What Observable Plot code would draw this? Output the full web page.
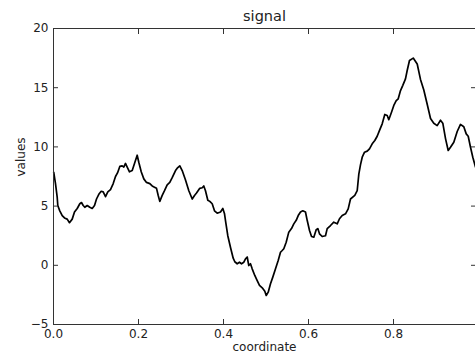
<!DOCTYPE html>
<html><head><meta charset="utf-8">
<script src="https://cdn.jsdelivr.net/npm/d3@7"></script>
<script src="https://cdn.jsdelivr.net/npm/@observablehq/plot@0.6"></script>
<style>body{margin:0;background:#fff;}</style>
</head><body><div id="chart"></div>
<script>
const title = "signal";
const xLabel = "coordinate";
const yLabel = "values";
const xTicks = [0, 0.2, 0.4, 0.6, 0.8];
const yTicks = [-5, 0, 5, 10, 15, 20];
const coordinate = [
  0.0005, 0.0047, 0.0087, 0.0101, 0.0148, 0.0205, 0.0259, 0.0322, 0.0376, 0.044,
  0.0494, 0.0558, 0.0619, 0.0659, 0.0699, 0.0736, 0.0793, 0.0854, 0.0911, 0.0965,
  0.1012, 0.1066, 0.1122, 0.1169, 0.1224, 0.1278, 0.1341, 0.1405, 0.1459, 0.1506,
  0.156, 0.1616, 0.1654, 0.1694, 0.1734, 0.1788, 0.1852, 0.1906, 0.1969, 0.2007,
  0.2064, 0.2125, 0.2188, 0.2266, 0.2322, 0.2376, 0.2424, 0.2464, 0.2501, 0.2558,
  0.2612, 0.2675, 0.2736, 0.2793, 0.2871, 0.2911, 0.2972, 0.3028, 0.3106, 0.3184,
  0.3264, 0.3318, 0.3365, 0.3442, 0.3499, 0.3536, 0.3576, 0.3631, 0.3678, 0.3734,
  0.3788, 0.3852, 0.3929, 0.3984, 0.4024, 0.4054, 0.4101, 0.4165, 0.4228, 0.4266,
  0.4322, 0.4376, 0.4424, 0.4478, 0.4518, 0.4558, 0.4595, 0.4635, 0.4675, 0.4736,
  0.4793, 0.4847, 0.4911, 0.4972, 0.5005, 0.5052, 0.5106, 0.516, 0.5224, 0.5287,
  0.5341, 0.5381, 0.5419, 0.5475, 0.5536, 0.56, 0.5654, 0.5711, 0.5758, 0.5812,
  0.5866, 0.5929, 0.5969, 0.6024, 0.6071, 0.6125, 0.6181, 0.6219, 0.6259, 0.6322,
  0.64, 0.644, 0.6518, 0.6595, 0.6675, 0.6729, 0.6793, 0.6871, 0.6934, 0.6988,
  0.7089, 0.7146, 0.7184, 0.7224, 0.7264, 0.7318, 0.7381, 0.7435, 0.7499, 0.756,
  0.7616, 0.7671, 0.7734, 0.7795, 0.7852, 0.7889, 0.7953, 0.8007, 0.8064, 0.8111,
  0.8165, 0.8219, 0.8282, 0.8322, 0.8376, 0.8464, 0.8558, 0.8635, 0.8713, 0.8793,
  0.8871, 0.8948, 0.9028, 0.9106, 0.916, 0.9224, 0.9287, 0.9341, 0.9419, 0.9499,
  0.9576, 0.9654, 0.9711, 0.9758, 0.9812, 0.9866, 0.9929, 1.0
];
const values = [
  7.86, 6.9, 5.75, 5.05, 4.6, 4.2, 4.0, 3.9, 3.6, 3.9,
  4.5, 4.8, 5.2, 5.3, 5.05, 4.9, 5.05, 4.9, 4.8, 5.05,
  5.6, 6.0, 6.25, 6.2, 5.8, 6.2, 6.4, 6.9, 7.5, 7.8,
  8.35, 8.4, 8.3, 8.6, 8.3, 7.9, 8.0, 8.6, 9.3, 8.7,
  7.9, 7.3, 7.0, 6.9, 6.7, 6.6, 6.5, 5.9, 5.4, 5.9,
  6.3, 6.8, 7.0, 7.4, 8.0, 8.2, 8.4, 8.0, 7.2, 6.3,
  5.6, 5.9, 6.1, 6.5, 6.55, 6.7, 6.3, 5.5, 5.4, 5.2,
  4.6, 4.4, 4.5, 4.8, 4.35, 3.6, 2.5, 1.5, 0.6, 0.3,
  0.13, 0.26, 0.13, 0.26, 0.55, 0.7, -0.02, 0.13, -0.3, -0.86,
  -1.3, -1.7, -1.9, -2.2, -2.55, -2.27, -1.56, -1.0, -0.3, 0.4,
  1.1, 1.25, 1.4, 1.95, 2.8, 3.1, 3.5, 3.8, 4.2, 4.5,
  4.6, 4.5, 3.8, 2.94, 2.43, 2.37, 3.0, 3.1, 2.66, 2.43,
  2.5, 3.1, 3.36, 3.64, 3.5, 3.93, 4.2, 4.35, 4.77, 5.6,
  5.9, 6.3, 7.7, 8.5, 9.13, 9.55, 9.64, 9.84, 10.26, 10.54,
  10.9, 11.4, 11.95, 12.74, 12.65, 12.3, 12.93, 13.5, 13.9, 14.06,
  14.76, 15.2, 15.75, 16.45, 17.3, 17.5, 17.0, 15.7, 14.8, 13.6,
  12.4, 12.0, 11.8, 12.25, 12.0, 10.7, 9.7, 9.97, 10.4, 11.3,
  11.9, 11.7, 11.1, 10.9, 9.97, 9.13, 8.3, 7.9
];
const data = coordinate.map((x, i) => ({x, y: values[i]}));
const ink = "#333";
const chart = Plot.plot({
  width: 475,
  height: 356,
  marginTop: 28,
  marginBottom: 32,
  marginLeft: 53,
  marginRight: 0,
  style: {fontFamily: "'DejaVu Sans', sans-serif", fontSize: "12px", color: "#222", background: "#fff"},
  x: {domain: [0, 1], range: [53, 478]},
  y: {domain: [-5, 20]},
  marks: [
    Plot.line(data, {x: "x", y: "y", stroke: "#000", strokeWidth: 1.7}),
    Plot.frame({stroke: ink}),
    Plot.axisX(xTicks, {anchor: "bottom", tickSize: -5, fill: "none", stroke: ink}),
    Plot.axisX(xTicks, {anchor: "bottom", tickSize: 0, tickPadding: 5, tickFormat: d3.format(".1f"), label: null}),
    Plot.axisX(xTicks, {anchor: "top", tickSize: -5, fill: "none", stroke: ink}),
    Plot.axisY(yTicks, {anchor: "left", tickSize: -5, fill: "none", stroke: ink}),
    Plot.axisY(yTicks, {anchor: "left", tickSize: 0, tickPadding: 5, label: null}),
    Plot.axisY(yTicks, {anchor: "right", tickSize: -5, fill: "none", stroke: ink}),
    Plot.text([title], {frameAnchor: "top", text: d => d, dy: -12, lineAnchor: "middle", fontSize: 14.5}),
    Plot.text([xLabel], {frameAnchor: "bottom", text: d => d, dy: 23, lineAnchor: "middle", fontSize: 12}),
    Plot.text([yLabel], {frameAnchor: "left", text: d => d, dx: -32, rotate: -90, lineAnchor: "middle", fontSize: 12})
  ]
});
document.getElementById("chart").appendChild(chart);
</script>
</body></html>
